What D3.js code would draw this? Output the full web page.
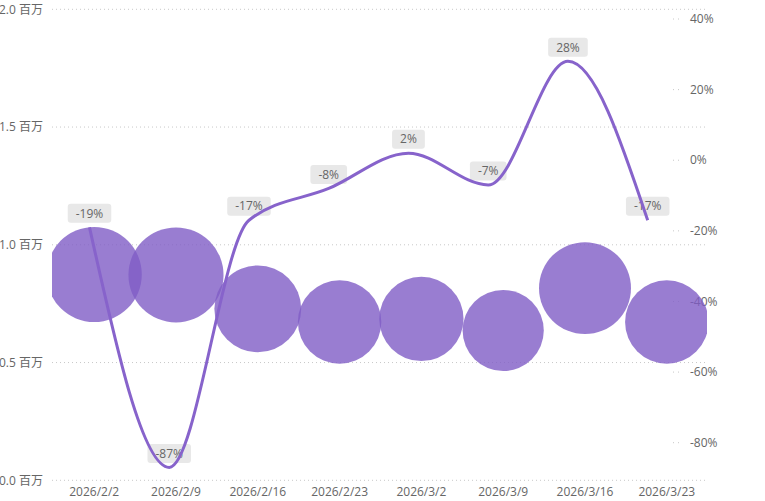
<!DOCTYPE html>
<html>
<head>
<meta charset="utf-8">
<script src="https://cdn.jsdelivr.net/npm/d3@7"></script>
<style>
  html, body { margin: 0; padding: 0; background: #fff; }
  svg { display: block; font-family: "Segoe UI", "Open Sans", "Noto Sans CJK SC", sans-serif; }
</style>
</head>
<body>
<div id="chart"></div>
<script>
(() => {
  // values
  const dates     = ["2026/2/2", "2026/2/9", "2026/2/16", "2026/2/23", "2026/3/2", "2026/3/9", "2026/3/16", "2026/3/23"];
  const amounts   = [0.874, 0.872, 0.728, 0.672, 0.685, 0.636, 0.816, 0.672];   // 百万
  const changes   = [-19, -87, -17, -8, 2, -7, 28, -17];                         // %
  const leftTicks  = [0, 0.5, 1, 1.5, 2];
  const rightTicks = [40, 20, 0, -20, -40, -60, -80];

  const W = 765, H = 501;
  const plot = { l: 52, r: 707 };

  const bubbleFill = "#7f5cc6";
  const lineColor  = "#8763cb";
  const textColor  = "#666";

  const svg = d3.select("#chart").append("svg")
    .attr("width", W).attr("height", H)
    .attr("viewBox", [0, 0, W, H]);

  const x     = d3.scalePoint().domain(dates).range([94.2, 666.8]);
  const xLine = d3.scalePoint().domain(dates).range([89.5, 647.7]);
  const yL = d3.scaleLinear().domain([0, 2]).range([480.3, 9.3]);
  const yR = d3.scaleLinear().domain([-80, 40]).range([442.7, 19]);
  const r  = d3.scaleSqrt().domain([0, 1]).range([0, 50.9]);

  // left axis + gridlines
  const gLeft = svg.append("g");
  gLeft.selectAll("line").data(leftTicks).join("line")
    .attr("x1", plot.l).attr("x2", 705)
    .attr("y1", d => yL(d)).attr("y2", d => yL(d))
    .attr("stroke", "#c8c8c8").attr("stroke-width", 1)
    .attr("stroke-dasharray", "1,3");
  gLeft.selectAll("text").data(leftTicks).join("text")
    .attr("x", 43).attr("y", d => yL(d)).attr("dy", "0.35em")
    .attr("text-anchor", "end")
    .attr("font-size", 12).attr("fill", textColor)
    .text(d => d3.format(".1f")(d) + " 百万");

  // right axis
  const gRight = svg.append("g");
  gRight.selectAll("line").data(rightTicks).join("line")
    .attr("x1", 673).attr("x2", 682)
    .attr("y1", d => yR(d)).attr("y2", d => yR(d))
    .attr("stroke", "#c8c8c8").attr("stroke-width", 1)
    .attr("stroke-dasharray", "1,4");
  gRight.selectAll("text").data(rightTicks).join("text")
    .attr("x", 690).attr("y", d => yR(d)).attr("dy", "0.35em")
    .attr("font-size", 12).attr("fill", textColor)
    .text(d => d + "%");

  // x axis labels
  svg.append("g").selectAll("text").data(dates).join("text")
    .attr("x", d => x(d)).attr("y", 492).attr("dy", "0.35em")
    .attr("text-anchor", "middle")
    .attr("font-size", 12).attr("fill", textColor)
    .text(d => d);

  // bubbles
  svg.append("defs").append("clipPath").attr("id", "plotClip")
    .append("rect").attr("x", plot.l).attr("y", 0)
    .attr("width", plot.r - plot.l).attr("height", H);

  svg.append("g").attr("clip-path", "url(#plotClip)")
    .selectAll("circle").data(dates).join("circle")
    .attr("cx", d => x(d))
    .attr("cy", (d, i) => yL(amounts[i]))
    .attr("r", (d, i) => r(amounts[i]))
    .attr("fill", bubbleFill).attr("fill-opacity", 0.8);

  // data labels (boxes sit under the line)
  const pts = dates.map((d, i) => [xLine(d), yR(changes[i])]);
  const gLab = svg.append("g");
  const lab = gLab.selectAll("g").data(changes).join("g")
    .attr("transform", (d, i) => `translate(${pts[i][0]},${pts[i][1] - 14})`);
  const rects = lab.append("rect");
  lab.append("text")
    .attr("text-anchor", "middle").attr("dy", "0.35em")
    .attr("font-size", 12).attr("fill", textColor)
    .text(d => d + "%");
  lab.each(function () {
    const g = d3.select(this);
    const tw = g.select("text").node().getComputedTextLength();
    g.select("rect")
      .attr("x", -tw / 2 - 8).attr("y", -9.5)
      .attr("width", tw + 16).attr("height", 19)
      .attr("rx", 3).attr("fill", "#e8e8e8");
  });

  // change line
  svg.append("path")
    .datum(pts)
    .attr("fill", "none")
    .attr("stroke", lineColor).attr("stroke-width", 3)
    .attr("d", d3.line().curve(d3.curveMonotoneX));
})();
</script>
</body>
</html>
